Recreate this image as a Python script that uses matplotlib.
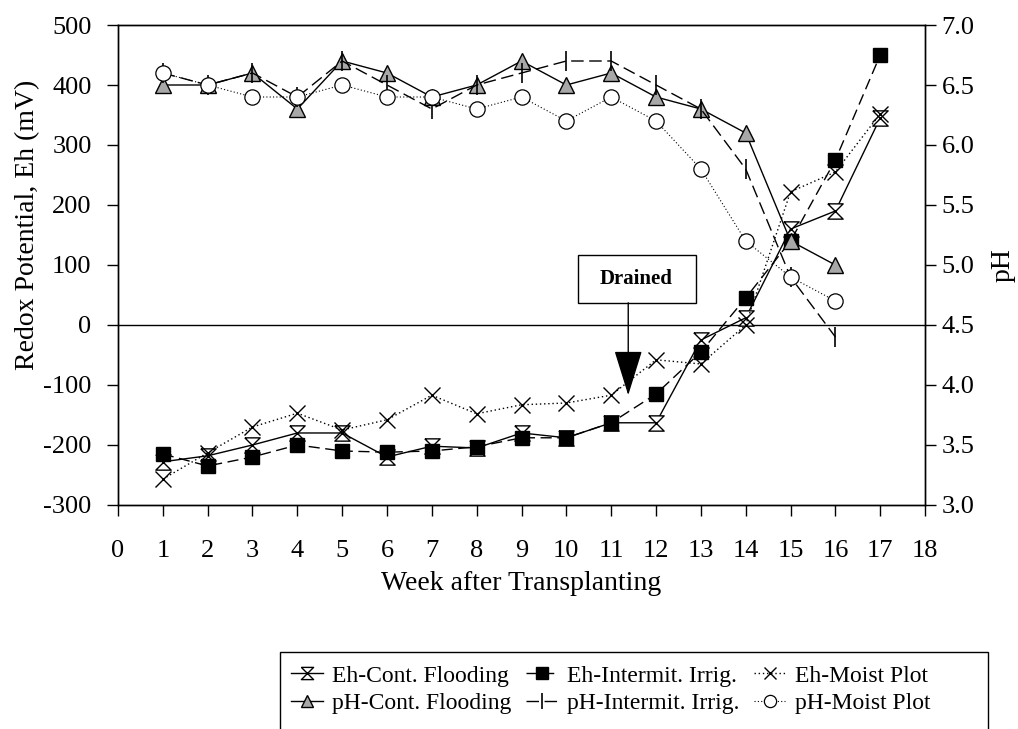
import matplotlib
matplotlib.use("Agg")
import matplotlib.pyplot as plt
from matplotlib.patches import Rectangle

plt.rcParams['font.family'] = 'Liberation Serif'
plt.rcParams['axes.unicode_minus'] = False

# weeks after transplanting
weeks_eh = list(range(1, 18))
weeks_ph = list(range(1, 17))

# redox potential, mV
eh_cont = [-228, -218, -200, -180, -180, -220, -202, -205, -180, -188, -163, -163, -25, 12, 160, 190, 345]
eh_inter = [-215, -235, -220, -200, -210, -212, -210, -203, -188, -188, -163, -115, -45, 45, 140, 275, 450]
eh_moist = [-257, -213, -170, -147, -175, -158, -117, -148, -133, -130, -117, -58, -65, 0, 222, 255, 352]

# pH
ph_cont = [6.5, 6.5, 6.6, 6.3, 6.7, 6.6, 6.4, 6.5, 6.7, 6.5, 6.6, 6.4, 6.3, 6.1, 5.2, 5.0]
ph_inter = [6.6, 6.5, 6.6, 6.4, 6.7, 6.5, 6.3, 6.5, 6.6, 6.7, 6.7, 6.5, 6.3, 5.8, 4.9, 4.4]
ph_moist = [6.6, 6.5, 6.4, 6.4, 6.5, 6.4, 6.4, 6.3, 6.4, 6.2, 6.4, 6.2, 5.8, 5.2, 4.9, 4.7]

labels = ['Eh-Cont. Flooding', 'Eh-Intermit. Irrig.', 'Eh-Moist Plot',
          'pH-Cont. Flooding', 'pH-Intermit. Irrig.', 'pH-Moist Plot']

hourglass = [(-1, 1), (1, 1), (-1, -1), (1, -1), (-1, 1)]

fig = plt.figure(figsize=(10.18, 7.29), dpi=100)
ax = fig.add_axes([0.1159, 0.3073, 0.7928, 0.6584])
ax2 = ax.twinx()

ax.axhline(0, color='black', lw=1.0, zorder=1)

h1, = ax.plot(weeks_eh, eh_cont, color='black', lw=1.0, ls='-', marker=hourglass,
              ms=11, mfc='white', mec='black', mew=1.0, label=labels[0])
h2, = ax.plot(weeks_eh, eh_inter, color='black', lw=1.0, ls=(0, (8, 4)), marker='s',
              ms=10, mfc='black', mec='black', label=labels[1])
h3, = ax.plot(weeks_eh, eh_moist, color='black', lw=1.0, ls=(0, (1, 2)), marker='x',
              ms=11, mec='black', mew=1.0, label=labels[2])

h4, = ax2.plot(weeks_ph, ph_cont, color='black', lw=1.0, ls='-', marker='^',
               ms=11, mfc='#a8a8a8', mec='black', mew=1.0, label=labels[3])
h5, = ax2.plot(weeks_ph, ph_inter, color='black', lw=1.0, ls=(0, (9, 4)), marker='|',
               ms=14, mec='black', mew=1.2, label=labels[4])
h6, = ax2.plot(weeks_ph, ph_moist, color='black', lw=0.8, ls=(0, (1, 2)), marker='o',
               ms=11, mfc='white', mec='black', mew=0.9, label=labels[5])

ax.set_xlim(0, 18)
ax.set_ylim(-300, 500)
ax2.set_ylim(3.0, 7.0)
ax.set_xticks(range(0, 19))
ax.set_yticks(range(-300, 501, 100))
ax2.set_yticks([3.0, 3.5, 4.0, 4.5, 5.0, 5.5, 6.0, 6.5, 7.0])
ax2.set_yticklabels([f'{v:.1f}' for v in ax2.get_yticks()])

ax.tick_params(axis='x', direction='out', length=8, width=1, labelsize=19, pad=17)
ax.tick_params(axis='y', direction='out', length=8, width=1, labelsize=19, pad=11)
ax2.tick_params(axis='y', direction='out', length=8, width=1, labelsize=19, pad=4)

for a in (ax, ax2):
    for s in a.spines.values():
        s.set_linewidth(1.0)

ax.set_xlabel('Week after Transplanting', fontsize=20, labelpad=7)
ax.set_ylabel('Redox Potential, Eh (mV)', fontsize=20, va='center')
ax.yaxis.set_label_coords(-0.112, 0.583)
ax2.set_ylabel('pH', fontsize=20, rotation=90, va='center')
ax2.yaxis.set_label_coords(1.0967, 0.5)

# drained annotation
ax.add_patch(Rectangle((10.27, 37), 2.63, 80, fc='white', ec='black', lw=1.0, zorder=5))
ax.text(11.56, 77, 'Drained', ha='center', va='center', fontsize=15, fontweight='bold',
        zorder=6)
ax.annotate('', xy=(11.38, -117), xytext=(11.38, 37),
            arrowprops=dict(arrowstyle='-|>,head_length=1.45,head_width=0.45',
                            color='black', lw=1.0, shrinkA=0, shrinkB=0,
                            mutation_scale=20), zorder=6)

fig.legend(handles=[h1, h4, h2, h5, h3, h6], ncol=3, loc='upper left',
           bbox_to_anchor=(0.273, 0.1056), fontsize=17, frameon=False,
           handlelength=1.35, handletextpad=0.4, columnspacing=0.6,
           labelspacing=0.25, markerscale=0.8, borderpad=0.55, borderaxespad=0)
fig.patches.append(Rectangle((0.275, -0.02), 0.6955, 0.1256, transform=fig.transFigure,
                             fill=False, ec='black', lw=1.0))

fig.savefig('out.png', dpi=100)
